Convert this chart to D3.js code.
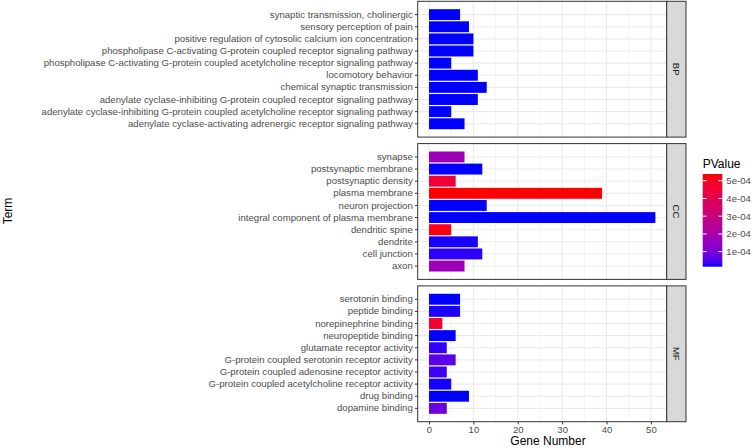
<!DOCTYPE html>
<html><head><meta charset="utf-8">
<script src="https://cdn.jsdelivr.net/npm/d3@7"></script>
<style>body{margin:0;background:#fff}</style>
</head><body><svg id="c" width="753" height="448" xmlns="http://www.w3.org/2000/svg"></svg>
<script>
// ---- data (top-to-bottom display order) ----
const panelNames = ["BP", "CC", "MF"];
const bpTerms = ["synaptic transmission, cholinergic","sensory perception of pain","positive regulation of cytosolic calcium ion concentration","phospholipase C-activating G-protein coupled receptor signaling pathway","phospholipase C-activating G-protein coupled acetylcholine receptor signaling pathway","locomotory behavior","chemical synaptic transmission","adenylate cyclase-inhibiting G-protein coupled receptor signaling pathway","adenylate cyclase-inhibiting G-protein coupled acetylcholine receptor signaling pathway","adenylate cyclase-activating adrenergic receptor signaling pathway"];
const bpCounts = [7, 9, 10, 10, 5, 11, 13, 11, 5, 8];
const bpP = [1.5e-5, 1.5e-5, 1.5e-5, 1.5e-5, 1.5e-5, 1.5e-5, 1.5e-5, 1.5e-5, 1.5e-5, 1.5e-5];
const ccTerms = ["synapse","postsynaptic membrane","postsynaptic density","plasma membrane","neuron projection","integral component of plasma membrane","dendritic spine","dendrite","cell junction","axon"];
const ccCounts = [8, 12, 6, 39, 13, 51, 5, 11, 12, 8];
const ccP = [1.72e-4, 1.5e-5, 4.6e-4, 5.38e-4, 1.5e-5, 1.5e-5, 5.22e-4, 1.9e-5, 2.6e-5, 1.72e-4];
const mfTerms = ["serotonin binding","peptide binding","norepinephrine binding","neuropeptide binding","glutamate receptor activity","G-protein coupled serotonin receptor activity","G-protein coupled adenosine receptor activity","G-protein coupled acetylcholine receptor activity","drug binding","dopamine binding"];
const mfCounts = [7, 7, 3, 6, 4, 6, 4, 5, 9, 4];
const mfP = [1.5e-5, 2.0e-5, 4.7e-4, 1.5e-5, 2.8e-5, 6.2e-5, 3.6e-5, 1.8e-5, 1.5e-5, 8.3e-5];
const xTicks = [0, 10, 20, 30, 40, 50];
const xMinorTicks = [5, 15, 25, 35, 45];
const legendTicks = [1e-4, 2e-4, 3e-4, 4e-4, 5e-4];
const legendLabels = ["1e-04", "2e-04", "3e-04", "4e-04", "5e-04"];

const panels = [
  {name: panelNames[0], terms: bpTerms, counts: bpCounts, p: bpP},
  {name: panelNames[1], terms: ccTerms, counts: ccCounts, p: ccP},
  {name: panelNames[2], terms: mfTerms, counts: mfCounts, p: mfP}
];

// ---- layout ----
const FONT = "Liberation Sans, Arial, Helvetica, sans-serif";
const panelLeft = 417.7, panelRight = 666.7;
const panelTop0 = 1.3, panelH = 135.8, panelGap = 6.5;
const stripW = 19.3;
const svg = d3.select("#c").style("font-family", FONT);

const allCounts = bpCounts.concat(ccCounts, mfCounts);
const allP = bpP.concat(ccP, mfP);
const cMax = d3.max(allCounts);
const x = d3.scaleLinear().domain([-0.05 * cMax, cMax * 1.05]).range([panelLeft, panelRight]);
const pExt = d3.extent(allP);
const color = d3.scaleLinear().domain(pExt).range(["#0000FF", "#FF0000"]).interpolate(d3.interpolateLab);

panels.forEach((pn, i) => {
  const top = panelTop0 + i * (panelH + panelGap);
  const y = d3.scaleBand().domain(pn.terms).range([top, top + panelH]).paddingInner(0.1).paddingOuter(0.65);
  const g = svg.append("g");
  g.append("rect").attr("x", panelLeft).attr("y", top).attr("width", panelRight - panelLeft).attr("height", panelH).attr("fill", "#fff");
  g.selectAll(".mn").data(xMinorTicks).join("line")
    .attr("x1", d => x(d)).attr("x2", d => x(d)).attr("y1", top).attr("y2", top + panelH)
    .attr("stroke", "#EBEBEB").attr("stroke-width", 0.55);
  g.selectAll(".mj").data(xTicks).join("line")
    .attr("x1", d => x(d)).attr("x2", d => x(d)).attr("y1", top).attr("y2", top + panelH)
    .attr("stroke", "#EBEBEB").attr("stroke-width", 1.1);
  g.selectAll(".mh").data(pn.terms).join("line")
    .attr("x1", panelLeft).attr("x2", panelRight)
    .attr("y1", d => y(d) + y.bandwidth() / 2).attr("y2", d => y(d) + y.bandwidth() / 2)
    .attr("stroke", "#EBEBEB").attr("stroke-width", 1.1);
  g.selectAll(".bar").data(pn.terms.map((t, j) => ({t, c: pn.counts[j], p: pn.p[j]}))).join("rect")
    .attr("x", x(0)).attr("y", d => y(d.t)).attr("width", d => x(d.c) - x(0)).attr("height", y.bandwidth())
    .attr("fill", d => color(d.p));
  g.append("rect").attr("x", panelLeft).attr("y", top).attr("width", panelRight - panelLeft).attr("height", panelH)
    .attr("fill", "none").attr("stroke", "#333333").attr("stroke-width", 1);
  const ya = d3.axisLeft(y).tickSize(2.75).tickPadding(2.2);
  const ag = g.append("g").attr("transform", `translate(${panelLeft},0)`).call(ya);
  ag.select(".domain").remove();
  ag.selectAll(".tick line").attr("stroke", "#333333").attr("stroke-width", 1);
  ag.selectAll(".tick text").attr("fill", "#4D4D4D").style("font-size", "9.6px").style("font-family", FONT);
  g.append("rect").attr("x", panelRight).attr("y", top).attr("width", stripW).attr("height", panelH)
    .attr("fill", "#D9D9D9").attr("stroke", "#333333").attr("stroke-width", 1);
  g.append("text").attr("transform", `translate(${panelRight + stripW / 2},${top + panelH / 2}) rotate(90)`)
    .attr("text-anchor", "middle").attr("dy", "0.35em").attr("fill", "#1A1A1A").style("font-size", "9.6px").text(pn.name);
  if (i === panels.length - 1) {
    const xa = d3.axisBottom(x).tickValues(xTicks).tickSize(2.75).tickPadding(2.2).tickFormat(d3.format("d"));
    const xg = g.append("g").attr("transform", `translate(0,${top + panelH})`).call(xa);
    xg.select(".domain").remove();
    xg.selectAll(".tick line").attr("stroke", "#333333").attr("stroke-width", 1);
    xg.selectAll(".tick text").attr("fill", "#4D4D4D").style("font-size", "9.6px").style("font-family", FONT);
  }
});

svg.append("text").attr("x", 548).attr("y", 445).attr("text-anchor", "middle").attr("fill", "#000").style("font-size", "12px").text("Gene Number");
svg.append("text").attr("transform", "translate(12,211) rotate(-90)").attr("text-anchor", "middle").attr("fill", "#000").style("font-size", "12px").text("Term");

const lgX = 702.7, lgW = 19.6, lgTop = 174, lgBot = 266.7;
svg.append("text").attr("x", lgX).attr("y", 168).attr("fill", "#000").style("font-size", "12px").text("PValue");
const grad = svg.append("defs").append("linearGradient").attr("id", "pg").attr("x1", 0).attr("y1", 1).attr("x2", 0).attr("y2", 0);
d3.range(0, 1.0001, 0.05).forEach(t => {
  grad.append("stop").attr("offset", t).attr("stop-color", color(pExt[0] + t * (pExt[1] - pExt[0])));
});
svg.append("rect").attr("x", lgX).attr("y", lgTop).attr("width", lgW).attr("height", lgBot - lgTop).attr("fill", "url(#pg)");
const ly = d3.scaleLinear().domain(pExt).range([lgBot, lgTop]);
const lt = svg.append("g").selectAll("g").data(legendTicks).join("g");
lt.append("line").attr("x1", lgX).attr("x2", lgX + lgW / 5).attr("y1", d => ly(d)).attr("y2", d => ly(d)).attr("stroke", "#fff").attr("stroke-width", 1);
lt.append("line").attr("x1", lgX + lgW - lgW / 5).attr("x2", lgX + lgW).attr("y1", d => ly(d)).attr("y2", d => ly(d)).attr("stroke", "#fff").attr("stroke-width", 1);
lt.append("text").attr("x", lgX + lgW + 4).attr("y", d => ly(d)).attr("dy", "0.35em").attr("fill", "#4D4D4D").style("font-size", "9.6px")
  .text((d, i) => legendLabels[i]);
</script>
</body></html>
